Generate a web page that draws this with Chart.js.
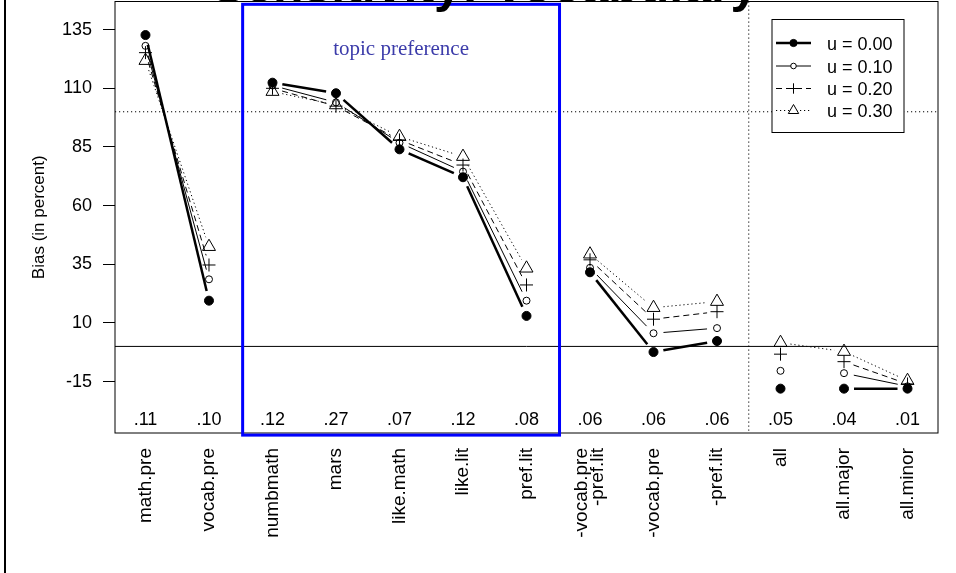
<!DOCTYPE html>
<html>
<head>
<meta charset="utf-8">
<script src="https://cdn.jsdelivr.net/npm/chart.js@4.4.1/dist/chart.umd.min.js"></script>
<style>
  html, body { margin: 0; padding: 0; background: #fff; }
  #contenedor { position: relative; width: 956px; height: 573px; }
</style>
</head>
<body>
<div id="contenedor"><canvas id="myChart"></canvas></div>
<script>
// Categorias del eje x (una etiqueta de dos lineas)
const categorias = ['math.pre', 'vocab.pre', 'numbmath', 'mars', 'like.math', 'like.lit', 'pref.lit',
  ['-vocab.pre', '-pref.lit'], '-vocab.pre', '-pref.lit', 'all', 'all.major', 'all.minor'];

// Sesgo (en porcentaje) para cada valor de u
const sesgoU000 = [132.7, 19.5, 112.4, 107.9, 84.0, 72.1, 13.0, 31.6, -2.4, 2.3, -18.0, -18.0, -18.0];
const sesgoU010 = [128.1, 28.6, 111.2, 104.0, 86.8, 74.5, 19.5, 33.5, 5.6, 7.8, -10.4, -11.4, -17.0];
const sesgoU020 = [125.2, 34.7, 110.0, 102.4, 88.0, 77.3, 26.2, 36.9, 11.6, 14.8, -3.3, -6.5, -16.0];
const sesgoU030 = [121.8, 42.5, 108.6, 102.9, 89.4, 80.9, 33.3, 39.3, 16.5, 19.1, 1.6, -2.2, -14.6];

// Proporciones escritas al pie de cada columna
const proporciones = ['.11', '.10', '.12', '.27', '.07', '.12', '.08', '.06', '.06', '.06', '.05', '.04', '.01'];

const ticksY = [135, 110, 85, 60, 35, 10, -15];
const etiquetasSerie = ['u = 0.00', 'u = 0.10', 'u = 0.20', 'u = 0.30'];

// true si el punto i se une con el i+1
const unidos = [true, false, true, true, true, true, false, true, true, false, false, true];

const fuente = "'Liberation Sans', Arial, sans-serif";
const hueco = 10;

function puntos(valores) {
  return valores.map((v, i) => ({ x: i + 1, y: v }));
}

function dibujarSimbolo(ctx, ds, x, y, escala) {
  const r = ds.pointRadius * escala;
  ctx.save();
  ctx.lineWidth = 1;
  ctx.setLineDash([]);
  ctx.strokeStyle = '#000';
  ctx.beginPath();
  if (ds.pointStyle === 'circle') {
    ctx.arc(x, y, r, 0, Math.PI * 2);
    ctx.fillStyle = ds.relleno ? '#000' : '#fff';
    ctx.fill();
    ctx.stroke();
  } else if (ds.pointStyle === 'cross') {
    ctx.moveTo(x - r, y); ctx.lineTo(x + r, y);
    ctx.moveTo(x, y - r); ctx.lineTo(x, y + r);
    ctx.stroke();
  } else {
    const h = r * Math.sqrt(3) / 2;
    ctx.moveTo(x, y - r);
    ctx.lineTo(x + h, y + r / 2);
    ctx.lineTo(x - h, y + r / 2);
    ctx.closePath();
    ctx.fillStyle = '#fff'; ctx.fill();
    ctx.stroke();
  }
  ctx.restore();
}

// Lineas de tipo "b": segmentos cortados cerca de cada punto
const lineasConHueco = {
  id: 'lineasConHueco',
  beforeDatasetsDraw(chart) {
    const { ctx, chartArea, scales: { x, y } } = chart;
    ctx.save();
    ctx.strokeStyle = '#000';
    ctx.lineWidth = 1;
    // referencias horizontales y separador vertical
    ctx.beginPath();
    ctx.moveTo(chartArea.left, y.getPixelForValue(0));
    ctx.lineTo(chartArea.right, y.getPixelForValue(0));
    ctx.stroke();
    ctx.setLineDash([1.2, 2.8]);
    ctx.beginPath();
    ctx.moveTo(chartArea.left, y.getPixelForValue(100));
    ctx.lineTo(chartArea.right, y.getPixelForValue(100));
    ctx.moveTo(x.getPixelForValue(10.5), chartArea.top);
    ctx.lineTo(x.getPixelForValue(10.5), chartArea.bottom);
    ctx.stroke();
    ctx.restore();

    chart.data.datasets.forEach((ds, k) => {
      const pts = chart.getDatasetMeta(k).data;
      ctx.save();
      ctx.strokeStyle = '#000';
      ctx.lineWidth = ds.anchoLinea;
      ctx.setLineDash(ds.guiones);
      for (let i = 0; i < pts.length - 1; i++) {
        const unir = unidos[i] || (ds.unionesExtra || []).includes(i);
        if (!unir) continue;
        const a = pts[i], b = pts[i + 1];
        const dx = b.x - a.x, dy = b.y - a.y;
        const largo = Math.hypot(dx, dy);
        if (largo <= 2 * hueco) continue;
        const ux = dx / largo, uy = dy / largo;
        ctx.beginPath();
        ctx.moveTo(a.x + ux * hueco, a.y + uy * hueco);
        ctx.lineTo(b.x - ux * hueco, b.y - uy * hueco);
        ctx.stroke();
      }
      ctx.restore();
    });
  },
  afterDraw(chart) {
    const { ctx, chartArea, scales: { x, y } } = chart;
    ctx.save();

    // marco del grafico
    ctx.strokeStyle = '#000';
    ctx.lineWidth = 1;
    ctx.strokeRect(chartArea.left, chartArea.top, chartArea.right - chartArea.left, chartArea.bottom - chartArea.top);

    // linea vertical a la izquierda de la figura
    ctx.fillStyle = '#000';
    ctx.fillRect(4, 0, 2, 573);

    // recuadro azul de preferencias
    const xa = x.getPixelForValue(2.53), xb = x.getPixelForValue(7.52);
    const ya = y.getPixelForValue(145.8), yb = y.getPixelForValue(-37.8);
    ctx.strokeStyle = '#0000ff';
    ctx.lineWidth = 3;
    ctx.strokeRect(xa, ya, xb - xa, yb - ya);
    ctx.fillStyle = '#3c3caa';
    ctx.font = "21px 'Liberation Serif', 'Times New Roman', serif";
    ctx.textAlign = 'center';
    ctx.textBaseline = 'alphabetic';
    ctx.fillText('topic preference', (xa + xb) / 2, 55);

    // proporciones al pie
    ctx.fillStyle = '#000';
    ctx.font = '18px ' + fuente;
    ctx.textBaseline = 'middle';
    proporciones.forEach((p, i) => {
      ctx.fillText(p, x.getPixelForValue(i + 1), y.getPixelForValue(-31.3));
    });

    // etiquetas de dos lineas del eje x, centradas en su posicion
    ctx.font = '19px ' + fuente;
    categorias.forEach((c, i) => {
      if (!Array.isArray(c)) return;
      const px = x.getPixelForValue(i + 1);
      ctx.save();
      ctx.translate(px, chartArea.bottom + 15);
      ctx.rotate(-Math.PI / 2);
      ctx.textAlign = 'right';
      ctx.textBaseline = 'middle';
      const alto = 16;
      c.forEach((linea, j) => {
        ctx.fillText(linea, 0, (j - (c.length - 1) / 2) * alto);
      });
      ctx.restore();
    });

    // titulo (sale recortado por arriba)
    ctx.font = 'bold 50px ' + fuente;
    ctx.textAlign = 'center';
    ctx.textBaseline = 'alphabetic';
    ctx.fillText('Sensitivity: Vocabulary', 485, 2);

    // leyenda
    const caja = { x: 772, y: 19.5, w: 132, h: 113 };
    ctx.fillStyle = '#fff';
    ctx.fillRect(caja.x, caja.y, caja.w, caja.h);
    ctx.strokeStyle = '#000';
    ctx.lineWidth = 1;
    ctx.strokeRect(caja.x, caja.y, caja.w, caja.h);
    const filas = [43, 66, 88.5, 110.5];
    chart.data.datasets.forEach((ds, k) => {
      const fy = filas[k];
      ctx.save();
      ctx.strokeStyle = '#000';
      ctx.lineWidth = ds.anchoLinea;
      ctx.setLineDash(ds.guiones);
      ctx.beginPath();
      ctx.moveTo(776, fy);
      ctx.lineTo(811, fy);
      ctx.stroke();
      ctx.restore();
      dibujarSimbolo(ctx, ds, 793.5, fy, 0.8);
      ctx.fillStyle = '#000';
      ctx.font = '18px ' + fuente;
      ctx.textAlign = 'left';
      ctx.textBaseline = 'middle';
      ctx.fillText(ds.label, 827, fy + 2);
    });
    ctx.restore();
  }
};

const datasets = [
  {
    label: etiquetasSerie[0], data: puntos(sesgoU000),
    pointStyle: 'circle', pointRadius: 4.5, pointBackgroundColor: '#000', pointBorderColor: '#000', pointBorderWidth: 1,
    relleno: true, anchoLinea: 2.5, guiones: []
  },
  {
    label: etiquetasSerie[1], data: puntos(sesgoU010),
    pointStyle: 'circle', pointRadius: 3.5, pointBackgroundColor: 'rgba(0,0,0,0)', pointBorderColor: '#000', pointBorderWidth: 1,
    relleno: false, anchoLinea: 1, guiones: []
  },
  {
    label: etiquetasSerie[2], data: puntos(sesgoU020),
    pointStyle: 'cross', pointRadius: 6.5, pointBackgroundColor: 'rgba(0,0,0,0)', pointBorderColor: '#000', pointBorderWidth: 1,
    relleno: false, anchoLinea: 1, guiones: [6, 4]
  },
  {
    label: etiquetasSerie[3], data: puntos(sesgoU030),
    pointStyle: 'triangle', pointRadius: 7.5, pointBackgroundColor: 'rgba(0,0,0,0)', pointBorderColor: '#000', pointBorderWidth: 1,
    relleno: false, anchoLinea: 1, guiones: [1.2, 2.8], unionesExtra: [10]
  }
];

const config = {
  type: 'line',
  data: { datasets },
  options: {
    responsive: true,
    maintainAspectRatio: false,
    animation: false,
    events: [],
    showLine: false,
    layout: { autoPadding: false, padding: { top: 1.5, right: 18, left: 0, bottom: 0 } },
    plugins: { legend: { display: false }, title: { display: false }, tooltip: { enabled: false } },
    scales: {
      x: {
        type: 'linear',
        min: 0.52,
        max: 13.48,
        afterFit(scale) {
          scale.height = 140;
          scale.paddingLeft = 0;
          scale.paddingRight = 0;
        },
        afterBuildTicks(scale) { scale.ticks = categorias.map((c, i) => ({ value: i + 1 })); },
        grid: { display: false },
        border: { display: false },
        ticks: {
          autoSkip: false,
          minRotation: 90,
          maxRotation: 90,
          padding: 7,
          color: '#000',
          font: { family: fuente, size: 19 },
          // la etiqueta de dos lineas se dibuja aparte
          callback: (v) => Array.isArray(categorias[v - 1]) ? '' : categorias[v - 1]
        }
      },
      y: {
        min: -36.9,
        max: 147,
        afterFit(scale) {
          scale.width = 115;
          scale.paddingTop = 0;
          scale.paddingBottom = 0;
        },
        afterBuildTicks(scale) { scale.ticks = ticksY.map(v => ({ value: v })); },
        grid: { drawOnChartArea: false, drawTicks: true, tickLength: 12, color: '#000', tickColor: '#000' },
        border: { display: false },
        ticks: { padding: 11, color: '#000', font: { family: fuente, size: 18 } },
        title: {
          display: true,
          text: 'Bias (in percent)',
          color: '#000',
          font: { family: fuente, size: 17 },
          padding: { top: 29, bottom: 0 }
        }
      }
    }
  },
  plugins: [lineasConHueco]
};

const canvas = document.querySelector('#myChart');
const myChart = new Chart(canvas, config);
</script>
</body>
</html>
